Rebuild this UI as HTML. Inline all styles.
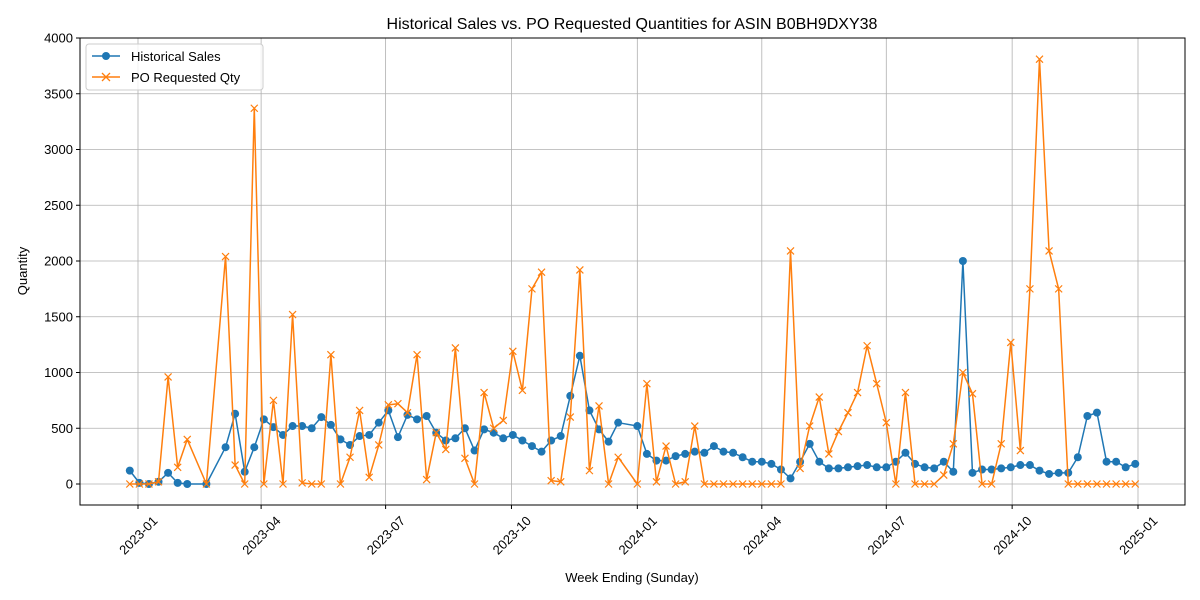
<!DOCTYPE html>
<html><head><meta charset="utf-8"><style>body{margin:0;background:#fff}svg{display:block;font-family:"Liberation Sans","DejaVu Sans",sans-serif}</style></head>
<body>
<svg id="chart" width="1200" height="600" viewBox="0 0 1200 600" xmlns="http://www.w3.org/2000/svg">
<rect width="1200" height="600" fill="#fff"/>
<text x="632" y="29" font-size="16" text-anchor="middle">Historical Sales vs. PO Requested Quantities for ASIN B0BH9DXY38</text>
<g id="grid"></g>
<g id="series"></g>
<rect x="80" y="38" width="1105" height="467" fill="none" stroke="#000" stroke-width="1"/>
<g id="axes"></g>
<text x="632" y="582" font-size="13" text-anchor="middle">Week Ending (Sunday)</text>
<text x="27" y="271" font-size="13" text-anchor="middle" transform="rotate(-90 27 271)">Quantity</text>
<g>
<rect x="86" y="44" width="177" height="46" rx="3" fill="#fff" fill-opacity="0.8" stroke="#ccc"/>
<line x1="92" y1="56" x2="120" y2="56" stroke="#1f77b4" stroke-width="1.5"/>
<circle cx="106" cy="56" r="4" fill="#1f77b4"/>
<text x="131" y="61" font-size="13">Historical Sales</text>
<line x1="92" y1="77" x2="120" y2="77" stroke="#ff7f0e" stroke-width="1.5"/>
<path d="M102,73L110,81M102,81L110,73" stroke="#ff7f0e" stroke-width="1.3"/>
<text x="131" y="82" font-size="13">PO Requested Qty</text>
</g>
</svg>
<script>
const weekIndex=[0,1,2,3,4,5,6,8,10,11,12,13,14,15,16,17,18,19,20,21,22,23,24,25,26,27,28,29,30,31,32,33,34,35,36,37,38,39,40,41,42,43,44,45,46,47,48,49,50,51,53,54,55,56,57,58,59,60,61,62,63,64,65,66,67,68,69,70,71,72,73,74,75,76,77,78,79,80,81,82,83,84,85,86,87,88,89,90,91,92,93,94,95,96,97,98,99,100,101,102,103,104,105];
const salesValues=[120,10,0,20,100,10,0,0,330,630,110,330,580,510,440,520,520,500,600,530,400,350,430,440,550,660,420,620,580,610,460,390,410,500,300,490,460,410,440,390,340,290,390,430,790,1150,660,490,380,550,520,270,210,210,250,270,290,280,340,290,280,240,200,200,180,130,50,200,360,200,140,140,150,160,170,150,150,200,280,180,150,140,200,110,2000,100,130,130,140,150,170,170,120,90,100,100,240,610,640,200,200,150,180];
const poValues=[0,0,0,20,960,150,400,0,2040,170,0,3370,0,750,0,1520,10,0,0,1160,0,240,660,60,350,710,720,640,1160,40,460,310,1220,230,0,820,500,570,1190,840,1750,1900,30,20,600,1920,120,700,0,240,0,900,20,340,0,20,520,0,0,0,0,0,0,0,0,0,2090,140,520,780,270,470,640,820,1240,900,550,0,820,0,0,0,80,360,1000,810,0,0,360,1270,300,1750,3810,2090,1750,0,0,0,0,0,0,0,0];
const yTicks=[0,500,1000,1500,2000,2500,3000,3500,4000];
const xTickLabels=["2023-01","2023-04","2023-07","2023-10","2024-01","2024-04","2024-07","2024-10","2025-01"];

const NS="http://www.w3.org/2000/svg";
const DAY=86400000, base=Date.UTC(2023,0,1), start=Date.UTC(2022,11,26);
function xScale(days){return 138+days*1000/731;}
function yScale(v){return 484-v*(446/4000);}
function mk(tag,attrs,parent){const e=document.createElementNS(NS,tag);for(const k in attrs)e.setAttribute(k,attrs[k]);parent.appendChild(e);return e;}
const grid=document.getElementById('grid'),axes=document.getElementById('axes'),series=document.getElementById('series');
yTicks.forEach(v=>{const y=yScale(v);
 const g=mk('line',{x1:80,x2:1185,y1:y,y2:y,stroke:'#b0b0b0','stroke-width':0.8},grid);
 
 
 const t=mk('line',{x1:76,x2:80,y1:y,y2:y,stroke:'#000'},axes);
 
 
 const l=mk('text',{x:73,y:y+4.5,'font-size':13,'text-anchor':'end'},axes);l.textContent=v;
 
 
});
xTickLabels.forEach(s=>{const [yy,mm]=s.split('-').map(Number);const d=(Date.UTC(yy,mm-1,1)-base)/DAY;const x=xScale(d);
 const g=mk('line',{x1:x,x2:x,y1:38,y2:505,stroke:'#b0b0b0','stroke-width':0.8},grid);
 
 
 const t=mk('line',{x1:x,x2:x,y1:505,y2:509,stroke:'#000'},axes);
 
 
 const l=mk('text',{x:x,y:540,'font-size':13,'text-anchor':'middle',transform:`rotate(-45 ${x} 535)`},axes);l.textContent=s;
 
 
});
function px(i){const d=(start+weekIndex[i]*7*DAY-base)/DAY;return xScale(d);}
function drawSeries(vals,color,name,marker){
 const pts=vals.map((v,i)=>px(i).toFixed(2)+','+yScale(v).toFixed(2)).join(' ');
 const pl=mk('polyline',{points:pts,fill:'none',stroke:color,'stroke-width':1.5,'stroke-linejoin':'round'},series);
 
 
 vals.forEach((v,i)=>{const x=px(i),y=yScale(v);let m;
  if(marker==='o'){m=mk('circle',{cx:x,cy:y,r:4,fill:color},series);}
  else{m=mk('path',{d:`M${x-3.5},${y-3.5}L${x+3.5},${y+3.5}M${x-3.5},${y+3.5}L${x+3.5},${y-3.5}`,stroke:color,'stroke-width':1.2},series);}
  
  
 });
}
drawSeries(salesValues,'#1f77b4','sales','o');
drawSeries(poValues,'#ff7f0e','po','x');
</script>
</body></html>
